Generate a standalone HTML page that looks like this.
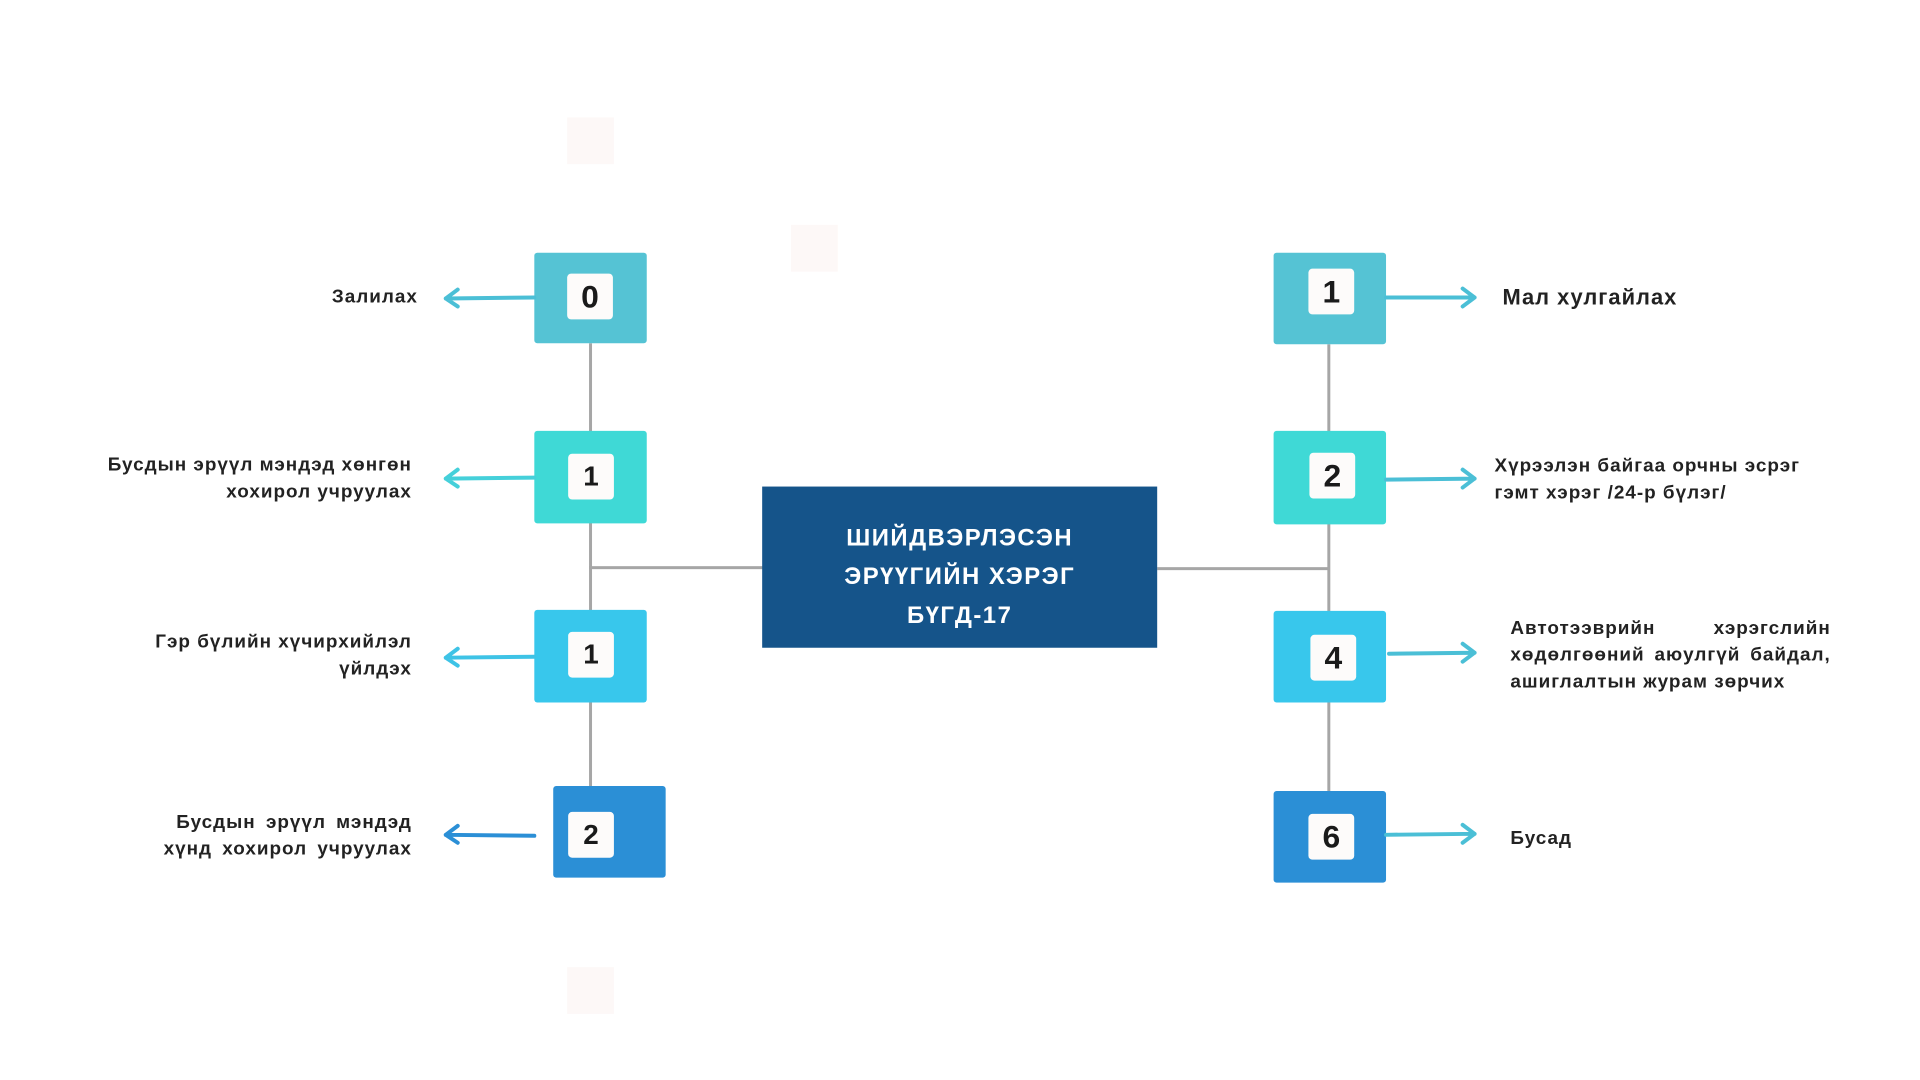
<!DOCTYPE html>
<html><head><meta charset="utf-8"><style>
body{margin:0;width:1920px;height:1080px;background:#fff;position:relative;overflow:hidden;font-family:"Liberation Sans","DejaVu Sans",sans-serif;}
#wrap{position:absolute;left:0;top:0;width:1920px;height:1080px;transform:scale(0.995);transform-origin:0 0;}
.b{position:absolute;border-radius:3px;}
.w{position:absolute;width:46px;height:46px;background:#fdfbfa;border-radius:4px;font-weight:bold;font-size:32px;color:#1a1a1a;text-align:center;line-height:46px;}
.l{position:absolute;background:#a6a6a6;}
.t{position:absolute;font-weight:bold;font-size:19px;color:#222;letter-spacing:1px;line-height:27px;}
.f{position:absolute;width:47px;height:47px;background:#fdf8f7;}
</style></head><body><div id="wrap">
<div class="f" style="left:570px;top:118px"></div>
<div class="f" style="left:795px;top:226px"></div>
<div class="f" style="left:570px;top:972px"></div>
<div class="l" style="left:592px;top:345px;width:3px;height:446px"></div>
<div class="l" style="left:592px;top:569px;width:175px;height:3px"></div>
<div class="l" style="left:1334px;top:346px;width:3px;height:450px"></div>
<div class="l" style="left:1163px;top:570px;width:173px;height:3px"></div>
<div class="b" style="left:766px;top:489px;width:397px;height:162px;background:#15548a;border-radius:0;color:#fff;font-weight:bold;font-size:24px;letter-spacing:1.5px;text-align:center;line-height:39px;padding-top:32px;box-sizing:border-box">ШИЙДВЭРЛЭСЭН<br>ЭРҮҮГИЙН ХЭРЭГ<br>БҮГД-17</div>
<div class="b" style="left:537px;top:254px;width:113px;height:91px;background:#55c3d4"></div>
<div class="w" style="left:570px;top:275px">0</div>
<div class="b" style="left:537px;top:433px;width:113px;height:93px;background:#3fd9d6"></div>
<div class="w" style="left:571px;top:456px;font-size:28px">1</div>
<div class="b" style="left:537px;top:613px;width:113px;height:93px;background:#38c7ec"></div>
<div class="w" style="left:571px;top:635px;font-size:28px">1</div>
<div class="b" style="left:556px;top:790px;width:113px;height:92px;background:#2b8fd6"></div>
<div class="w" style="left:571px;top:816px;font-size:28px">2</div>
<div class="b" style="left:1280px;top:254px;width:113px;height:92px;background:#55c3d4"></div>
<div class="w" style="left:1315px;top:270px">1</div>
<div class="b" style="left:1280px;top:433px;width:113px;height:94px;background:#3fd9d6"></div>
<div class="w" style="left:1316px;top:455px">2</div>
<div class="b" style="left:1280px;top:614px;width:113px;height:92px;background:#38c7ec"></div>
<div class="w" style="left:1317px;top:638px">4</div>
<div class="b" style="left:1280px;top:795px;width:113px;height:92px;background:#2b8fd6"></div>
<div class="w" style="left:1315px;top:818px">6</div>
<svg style="position:absolute;left:0;top:0" width="1920" height="1080">
<g fill="none" stroke-width="4" stroke-linecap="round" stroke-linejoin="round">
<g stroke="#4bbfd6"><path d="M537 299 L448 300 M460 291 L448 300 L460 308"/></g>
<g stroke="#45d0da"><path d="M537 480 L448 481 M460 472 L448 481 L460 489"/></g>
<g stroke="#3ec3e6"><path d="M537 660 L448 661 M460 652 L448 661 L460 669"/></g>
<g stroke="#2b8fd6"><path d="M537 840 L448 839 M460 830 L448 839 L460 847"/></g>
<g stroke="#4bbfd6"><path d="M1393 299 L1482 299 M1470 290 L1482 299 L1470 308"/>
<path d="M1393 482 L1482 481 M1470 472 L1482 481 L1470 490"/>
<path d="M1396 657 L1482 656 M1470 647 L1482 656 L1470 665"/>
<path d="M1393 839 L1482 838 M1470 829 L1482 838 L1470 847"/></g>
</g></svg>
<div class="t" style="right:1500px;top:285px;text-align:right">Залилах</div>
<div class="t" style="right:1506px;top:454px;text-align:right">Бусдын эрүүл мэндэд хөнгөн<br>хохирол учруулах</div>
<div class="t" style="right:1506px;top:632px;text-align:right">Гэр бүлийн хүчирхийлэл<br>үйлдэх</div>
<div class="t" style="right:1506px;top:813px;text-align:right;word-spacing:4px">Бусдын эрүүл мэндэд<br>хүнд хохирол учруулах</div>
<div class="t" style="left:1510px;top:285px;font-size:22px">Мал хулгайлах</div>
<div class="t" style="left:1502px;top:455px">Хүрээлэн байгаа орчны эсрэг<br>гэмт хэрэг /24-р бүлэг/</div>
<div class="t" style="left:1518px;top:618px;width:322px;text-align:justify;text-align-last:left">Автотээврийн хэрэгслийн хөдөлгөөний аюулгүй байдал, ашиглалтын журам зөрчих</div>
<div class="t" style="left:1518px;top:829px">Бусад</div>
</div></body></html>
